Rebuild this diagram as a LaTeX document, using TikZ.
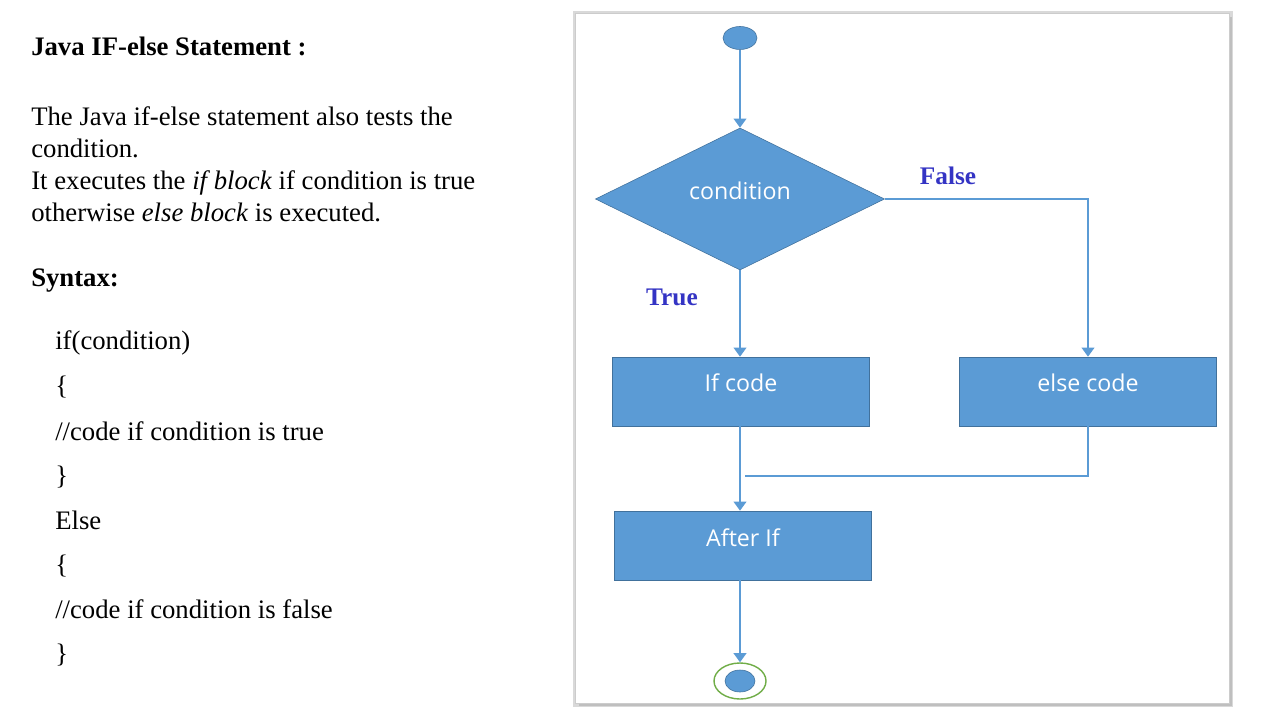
\documentclass[tikz,border=0pt]{standalone}
\usepackage{fontspec}
\setmainfont{Liberation Serif}
\newfontfamily\boxfont{Open Sans}
\usetikzlibrary{shapes.geometric, arrows.meta, positioning}

\definecolor{flowblue}{HTML}{5B9BD5}
\definecolor{flowedge}{HTML}{41719C}
\definecolor{labelblue}{HTML}{3434C4}
\definecolor{ringgreen}{HTML}{70AD47}

\begin{document}
\begin{tikzpicture}[x=0.025cm, y=-0.025cm,
    txt/.style={anchor=base west, inner sep=0, font=\fontsize{19}{23}\selectfont},
    block/.style={rectangle, draw=flowedge, fill=flowblue, text=white,
        font=\boxfont\fontsize{16.5}{19}\selectfont, minimum width=6.425cm,
        inner sep=0, text height=0.875cm, text depth=0.85cm},
    flow/.style={draw=flowblue, line width=1.4pt, -{Triangle[width=9pt,length=6.5pt]}},
    branch/.style={font=\bfseries\fontsize{18}{20}\selectfont, text=labelblue}
]
    \useasboundingbox (0,0) rectangle (1280,720);

    % Text on the left
    \node[txt, font=\bfseries\fontsize{19}{23}\selectfont] (title) at (31,56) {Java IF-else Statement :};
    \node[txt] (line1) at (31,126) {The Java if-else statement also tests the};
    \node[txt] (line2) at (31,158) {condition.};
    \node[txt] (line3) at (31,190) {It executes the \textit{if block} if condition is true};
    \node[txt] (line4) at (31,222) {otherwise \textit{else block} is executed.};
    \node[txt, font=\bfseries\fontsize{19}{23}\selectfont] (syntax) at (31,287) {Syntax:};

    % Syntax lines
    \node[txt] (code1) at (55,350) {if(condition)};
    \node[txt] (code2) at (55,395) {\{};
    \node[txt] (code3) at (55,440) {//code if condition is true};
    \node[txt] (code4) at (55,484) {\}};
    \node[txt] (code5) at (55,529) {Else};
    \node[txt] (code6) at (55,573) {\{};
    \node[txt] (code7) at (55,618) {//code if condition is false};
    \node[txt] (code8) at (55,662) {\}};

    % Panel
    \fill[gray!30] (573,11) rectangle (1233,707);
    \fill[gray!50] (579,17) rectangle (1232,706);
    \filldraw[fill=white, draw=gray!40] (575,13) rectangle (1229,703);

    % Start
    \node[ellipse, draw=flowedge, fill=flowblue, minimum width=0.85cm, minimum height=0.575cm, inner sep=0] (start) at (740,38) {};

    % Condition
    \node[diamond, draw=flowedge, fill=flowblue, text=white, font=\boxfont\fontsize{16.5}{19}\selectfont,
        minimum width=7.225cm, minimum height=3.55cm, inner sep=0, text height=0.35cm, text depth=0.3cm] (cond) at (740,199) {condition};

    % Blocks
    \node[block] (ifcode) at (741,391.5) {If code};
    \node[block] (elsecode) at (1088,391.5) {else code};
    \node[block] (after) at (743,545.5) {After If};

    % End
    \node[ellipse, draw=ringgreen, line width=1pt, minimum width=1.3cm, minimum height=0.9cm, inner sep=0] (endring) at (740,681) {};
    \node[ellipse, draw=flowedge, fill=flowblue, minimum width=0.75cm, minimum height=0.55cm, inner sep=0] (stop) at (740,681) {};

    % Labels
    \node[branch] (falselbl) at (948,176) {False};
    \node[branch] (truelbl) at (672,297) {True};

    \coordinate (merge) at (740,476);

    % Arrows
    \draw[flow] (start) -- (cond.north);
    \draw[flow] (cond.south) -- (cond.south |- ifcode.north);
    \draw[flow] (cond.east) -| (elsecode.north);
    \draw[flow] (ifcode.south -| merge) -- (merge |- after.north);
    \draw[draw=flowblue, line width=1.4pt, shorten >=1.2mm] (elsecode.south) |- (merge);
    \draw[flow] (after.south -| merge) -- (endring.north);

\end{tikzpicture}
\end{document}
